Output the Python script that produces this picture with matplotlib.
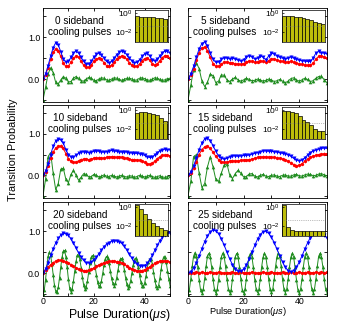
import numpy as np
import matplotlib
matplotlib.use("Agg")
import matplotlib.pyplot as plt

plt.rcParams["font.family"] = ["Liberation Sans", "DejaVu Sans"]
plt.rcParams["mathtext.fontset"] = "custom"
plt.rcParams["mathtext.rm"] = "Liberation Sans"
plt.rcParams["mathtext.it"] = "Liberation Sans:italic"

# pulse durations (us)
t = np.arange(0, 51, 1.0)
t_fine = np.arange(0, 50.5, 0.5)

pulses = [0, 5, 10, 15, 20, 25]

blue_0 = [0.0, 0.12, 0.32, 0.55, 0.75, 0.87, 0.82, 0.65, 0.48, 0.40, 0.42, 0.52, 0.62, 0.67, 0.62, 0.52, 0.42,
          0.36, 0.36, 0.42, 0.52, 0.59, 0.62, 0.58, 0.50, 0.42, 0.39, 0.42, 0.50, 0.58, 0.64, 0.67, 0.65, 0.58,
          0.50, 0.43, 0.39, 0.40, 0.46, 0.54, 0.60, 0.62, 0.55, 0.46, 0.43, 0.47, 0.55, 0.63, 0.67, 0.66, 0.62]
red_0 = [0.0, 0.10, 0.27, 0.47, 0.64, 0.72, 0.68, 0.54, 0.38, 0.30, 0.31, 0.40, 0.50, 0.55, 0.52, 0.43, 0.33,
         0.28, 0.28, 0.33, 0.42, 0.48, 0.50, 0.47, 0.39, 0.32, 0.30, 0.33, 0.40, 0.48, 0.53, 0.55, 0.53, 0.47,
         0.39, 0.33, 0.30, 0.31, 0.36, 0.44, 0.49, 0.50, 0.45, 0.37, 0.33, 0.36, 0.44, 0.51, 0.56, 0.54, 0.50]
green_0 = [-0.5, -0.2, 0.12, 0.27, 0.15, -0.08, -0.12, -0.02, 0.06, 0.02, -0.07, -0.06, 0.02, 0.06, 0.02, -0.04,
           -0.05, 0.0, 0.04, 0.02, -0.03, -0.04, 0.0, 0.03, 0.02, -0.02, -0.03, 0.0, 0.03, 0.02, -0.01, -0.03,
           -0.01, 0.02, 0.02, 0.0, -0.03, -0.02, 0.02, 0.03, 0.01, -0.02, -0.03, 0.0, 0.03, 0.02, -0.01, -0.03,
           -0.02, 0.01, 0.02]

blue_5 = [0.0, 0.12, 0.30, 0.52, 0.72, 0.85, 0.89, 0.80, 0.62, 0.47, 0.40, 0.41, 0.47, 0.51, 0.50, 0.48, 0.50,
          0.48, 0.45, 0.43, 0.46, 0.53, 0.56, 0.53, 0.48, 0.50, 0.56, 0.52, 0.46, 0.55, 0.62, 0.60, 0.55, 0.52,
          0.50, 0.48, 0.50, 0.53, 0.50, 0.47, 0.45, 0.44, 0.43, 0.42, 0.42, 0.50, 0.62, 0.66, 0.63, 0.62, 0.60]
red_5 = [0.0, 0.10, 0.25, 0.45, 0.63, 0.74, 0.77, 0.68, 0.52, 0.37, 0.30, 0.31, 0.36, 0.40, 0.41, 0.39, 0.38,
         0.37, 0.36, 0.35, 0.37, 0.41, 0.43, 0.42, 0.40, 0.41, 0.44, 0.42, 0.40, 0.44, 0.48, 0.48, 0.45, 0.43,
         0.42, 0.40, 0.41, 0.42, 0.40, 0.38, 0.36, 0.35, 0.34, 0.33, 0.33, 0.38, 0.48, 0.54, 0.55, 0.53, 0.50]
green_5 = [-0.5, -0.15, 0.22, 0.39, 0.25, -0.05, -0.18, -0.08, 0.12, 0.08, -0.09, -0.05, 0.10, 0.09, -0.02,
           -0.06, 0.0, 0.04, -0.02, -0.05, -0.02, 0.02, -0.01, -0.04, -0.03, 0.0, -0.02, -0.05, -0.03, 0.0,
           -0.02, -0.06, -0.04, -0.01, -0.05, -0.09, -0.05, 0.01, 0.03, -0.02, -0.05, -0.02, 0.02, -0.01, -0.06,
           -0.04, 0.02, 0.06, 0.07, -0.02, -0.09]

blue_10 = [0.0, 0.10, 0.28, 0.50, 0.70, 0.83, 0.87, 0.86, 0.78, 0.62, 0.50, 0.44, 0.44, 0.48, 0.53, 0.56, 0.57,
           0.56, 0.55, 0.56, 0.58, 0.59, 0.58, 0.56, 0.56, 0.57, 0.59, 0.60, 0.59, 0.58, 0.57, 0.56, 0.57, 0.56,
           0.55, 0.54, 0.53, 0.53, 0.52, 0.51, 0.48, 0.45, 0.43, 0.44, 0.49, 0.55, 0.59, 0.62, 0.63, 0.62, 0.62]
red_10 = [0.0, 0.08, 0.23, 0.41, 0.56, 0.66, 0.70, 0.71, 0.65, 0.52, 0.40, 0.34, 0.31, 0.32, 0.35, 0.38, 0.39,
          0.39, 0.38, 0.39, 0.41, 0.42, 0.42, 0.41, 0.42, 0.43, 0.44, 0.45, 0.44, 0.43, 0.44, 0.43, 0.42, 0.41,
          0.39, 0.38, 0.38, 0.37, 0.36, 0.34, 0.31, 0.28, 0.27, 0.29, 0.34, 0.40, 0.45, 0.48, 0.49, 0.48, 0.47]
green_10 = [-0.5, -0.1, 0.45, 0.55, 0.05, -0.35, -0.2, 0.15, 0.17, -0.1, -0.18, 0.02, 0.12, 0.0, -0.12, -0.05,
            0.04, 0.02, -0.04, -0.03, 0.02, 0.0, -0.04, -0.02, 0.01, -0.02, -0.03, 0.0, -0.02, -0.04, -0.02, 0.0,
            -0.03, -0.04, -0.01, -0.02, -0.05, -0.03, 0.0, -0.02, -0.04, -0.02, 0.0, -0.03, -0.05, -0.03, -0.01,
            -0.04, -0.05, -0.03, -0.02]

blue_15 = [0.0, 0.08, 0.22, 0.42, 0.62, 0.78, 0.88, 0.90, 0.84, 0.72, 0.58, 0.47, 0.41, 0.39, 0.41, 0.45, 0.47,
           0.47, 0.46, 0.47, 0.48, 0.48, 0.49, 0.51, 0.53, 0.55, 0.57, 0.59, 0.59, 0.58, 0.58, 0.57, 0.56, 0.55,
           0.53, 0.52, 0.50, 0.46, 0.41, 0.37, 0.35, 0.37, 0.42, 0.49, 0.55, 0.59, 0.61, 0.63, 0.65, 0.66, 0.65]
red_15 = [0.0, 0.06, 0.17, 0.33, 0.50, 0.62, 0.69, 0.70, 0.65, 0.56, 0.46, 0.38, 0.33, 0.31, 0.32, 0.34, 0.35,
          0.35, 0.35, 0.36, 0.37, 0.37, 0.38, 0.39, 0.41, 0.43, 0.44, 0.45, 0.45, 0.44, 0.44, 0.43, 0.42, 0.41,
          0.39, 0.37, 0.34, 0.30, 0.26, 0.23, 0.24, 0.28, 0.34, 0.39, 0.43, 0.46, 0.48, 0.50, 0.51, 0.52, 0.52]
green_15 = [-0.5, -0.15, 0.45, 0.5, 0.05, -0.3, -0.2, 0.2, 0.45, 0.2, -0.1, -0.15, 0.05, 0.25, 0.28, 0.0, -0.08,
            0.04, 0.12, 0.05, -0.04, -0.03, 0.03, 0.04, -0.02, -0.04, 0.0, 0.02, -0.02, -0.03, 0.0, 0.01, -0.02,
            -0.03, 0.0, 0.01, -0.02, -0.02, 0.01, 0.02, -0.01, -0.02, 0.01, 0.03, 0.02, -0.01, 0.0, 0.03, 0.04,
            0.01, -0.01]

blue_20 = [0.0, 0.10, 0.25, 0.42, 0.58, 0.72, 0.83, 0.91, 0.95, 0.94, 0.90, 0.82, 0.72, 0.60, 0.48, 0.38, 0.30,
           0.25, 0.24, 0.26, 0.31, 0.38, 0.46, 0.55, 0.63, 0.69, 0.73, 0.76, 0.77, 0.77, 0.75, 0.71, 0.64, 0.55,
           0.45, 0.35, 0.27, 0.21, 0.18, 0.17, 0.18, 0.23, 0.31, 0.42, 0.54, 0.66, 0.77, 0.86, 0.92, 0.95, 0.96]
red_20 = [0.0, 0.07, 0.14, 0.20, 0.25, 0.28, 0.30, 0.30, 0.29, 0.27, 0.24, 0.20, 0.16, 0.12, 0.09, 0.07, 0.06,
          0.06, 0.07, 0.09, 0.12, 0.16, 0.19, 0.22, 0.25, 0.27, 0.28, 0.28, 0.28, 0.27, 0.26, 0.24, 0.21, 0.17,
          0.13, 0.10, 0.07, 0.06, 0.05, 0.06, 0.08, 0.11, 0.15, 0.19, 0.23, 0.26, 0.28, 0.29, 0.29, 0.28, 0.27]
green_20 = [-0.5, -0.41, -0.16, 0.15, 0.40, 0.50, 0.42, 0.22, -0.04, -0.29, -0.44, -0.46, -0.34, -0.12, 0.15,
            0.38, 0.52, 0.54, 0.39, 0.14, -0.15, -0.37, -0.45, -0.38, -0.19, 0.05, 0.28, 0.42, 0.44, 0.33, 0.13,
            -0.10, -0.29, -0.38, -0.34, -0.19, 0.02, 0.23, 0.38, 0.42, 0.34, 0.17, -0.04, -0.22, -0.32, -0.31,
            -0.19, -0.01, 0.19, 0.34, 0.40, 0.35, 0.23, 0.05, -0.13, -0.25, -0.30, -0.25, -0.11, 0.07, 0.23,
            0.34, 0.35, 0.26, 0.08, -0.11, -0.27, -0.35, -0.31, -0.18, 0.0, 0.19, 0.32, 0.36, 0.29, 0.14, -0.04,
            -0.21, -0.31, -0.32, -0.24, -0.08, 0.10, 0.26, 0.34, 0.33, 0.22, 0.03, -0.16, -0.31, -0.36, -0.30,
            -0.13, 0.09, 0.28, 0.39, 0.38, 0.26, 0.06, -0.14, -0.30]

blue_25 = [0.0, 0.03, 0.115, 0.25, 0.41, 0.585, 0.75, 0.89, 0.985, 1.03, 1.01, 0.94, 0.82, 0.67, 0.50, 0.34,
           0.20, 0.09, 0.04, 0.04, 0.09, 0.20, 0.34, 0.50, 0.66, 0.81, 0.92, 0.99, 1.0, 0.95, 0.86, 0.73, 0.57,
           0.41, 0.26, 0.14, 0.06, 0.03, 0.06, 0.14, 0.26, 0.41, 0.57, 0.72, 0.85, 0.94, 0.98, 0.97, 0.94, 0.90,
           0.84]
red_25 = [0.0, 0.01, 0.01, 0.02, 0.01, 0.02, 0.01, 0.01, 0.02, 0.01, 0.01, 0.02, 0.01, 0.0, 0.01, 0.01, 0.02,
          0.01, 0.01, 0.02, 0.01, 0.01, 0.01, 0.02, 0.01, 0.0, 0.01, 0.02, 0.01, 0.01, 0.02, 0.01, 0.01, 0.01,
          0.02, 0.01, 0.01, 0.02, 0.01, 0.01, 0.02, 0.01, 0.01, 0.02, 0.01, 0.01, 0.02, 0.01, 0.02, 0.01, 0.02]
green_25 = [-0.5, -0.4, -0.14, 0.16, 0.4, 0.49, 0.4, 0.15, -0.16, -0.4,
            -0.47, -0.38, -0.13, 0.17, 0.4, 0.47, 0.38, 0.14, -0.15, -0.39,
            -0.48, -0.39, -0.16, 0.14, 0.38, 0.48, 0.4, 0.16, -0.14, -0.38,
            -0.47, -0.4, -0.15, 0.15, 0.39, 0.47, 0.38, 0.15, -0.15, -0.4,
            -0.48, -0.38, -0.14, 0.16, 0.4, 0.48, 0.39, 0.14, -0.16, -0.39,
            -0.47, -0.39, -0.15, 0.15, 0.38, 0.47, 0.39, 0.15, -0.14, -0.38,
            -0.46, -0.38, -0.14, 0.16, 0.39, 0.48, 0.4, 0.16, -0.15, -0.39,
            -0.47, -0.39, -0.15, 0.14, 0.38, 0.47, 0.38, 0.14, -0.16, -0.4,
            -0.48, -0.38, -0.15, 0.15, 0.39, 0.48, 0.39, 0.15, -0.15, -0.38,
            -0.47, -0.39, -0.14, 0.16, 0.4, 0.47, 0.38, 0.15, -0.15, -0.39,
            -0.47]

# phonon number populations shown in the insets
pop_0 = [0.45, 0.42, 0.40, 0.37, 0.34, 0.30, 0.27, 0.24, 0.22, 0.20, 0.18]
pop_5 = [0.52, 0.50, 0.45, 0.41, 0.35, 0.30, 0.23, 0.18, 0.13, 0.10, 0.07]
pop_10 = [0.50, 0.66, 0.66, 0.51, 0.37, 0.29, 0.16, 0.08, 0.054, 0.035, 0.02]
pop_15 = [0.85, 0.79, 0.66, 0.44, 0.25, 0.10, 0.056, 0.025, 0.011, 0.007, 0.006]
pop_20 = [1.5, 0.67, 0.20, 0.06, 0.022, 0.010, 0.006, 0.0045, 0.0028, 0.002, 0.0016]
pop_25 = [1.5, 0.008, 0.004, 0.0035, 0.0035, 0.003, 0.003, 0.003, 0.003, 0.003, 0.003]

blues = [blue_0, blue_5, blue_10, blue_15, blue_20, blue_25]
reds = [red_0, red_5, red_10, red_15, red_20, red_25]
greens = [green_0, green_5, green_10, green_15, green_20, green_25]
pops = [pop_0, pop_5, pop_10, pop_15, pop_20, pop_25]

W, H = 337, 323
fig = plt.figure(figsize=(W / 100, H / 100), dpi=100)


def px_axes(x0, y0, x1, y1):
    return fig.add_axes([x0 / W, 1 - y1 / H, (x1 - x0) / W, (y1 - y0) / H])


rows = [(8, 102), (105, 198), (202, 296)]
cols = [(43, 170, 48), (188, 327, 50)]

for i, n in enumerate(pulses):
    r, c = divmod(i, 2)
    top, bot = rows[r]
    x0, x1, xmax = cols[c]
    ax = px_axes(x0, top, x1, bot)

    g = greens[i]
    tg = t_fine if len(g) == len(t_fine) else t
    ax.errorbar(tg, g, yerr=0.045, fmt="none", ecolor="#86c886", elinewidth=0.7)
    ax.errorbar(t, reds[i], yerr=0.035, fmt="none", ecolor="#ff9090", elinewidth=0.7)
    ax.errorbar(t, blues[i], yerr=0.035, fmt="none", ecolor="#9090ff", elinewidth=0.7)
    ax.plot(tg, g, color="#1f8c1f", lw=0.7, marker="^", ms=2.6, mew=0)
    ax.plot(t, reds[i], color="#ff0000", lw=0.7, marker="o", ms=2.4, mew=0)
    ax.plot(t, blues[i], color="#0000ff", lw=0.7, marker="v", ms=2.9, mew=0)

    ax.set_xlim(0, xmax)
    ax.set_ylim(-0.55, 1.7)
    ax.set_xticks([0, 10, 20, 30, 40, 50])
    ax.set_xticklabels(["0", "", "20", "", "40", ""] if r == 2 else [])
    ax.set_yticks([-0.5, 0, 0.5, 1.0, 1.5])
    ax.set_yticklabels(["", "0.0", "", "1.0", ""] if c == 0 else [])
    ax.tick_params(direction="in", length=2.5, width=0.6, top=True, right=True,
                   labelsize=6.3, pad=2)
    ax.tick_params(axis="x", pad=1)
    for s in ax.spines.values():
        s.set_linewidth(0.6)

    tx = 0.29 if c == 0 else 0.266
    ax.text(tx, 0.80, f"{n} sideband\ncooling pulses", transform=ax.transAxes,
            ha="center", va="center", fontsize=7.2, linespacing=1.15)

    # inset with populations
    if c == 1:
        ins = px_axes(282, top + 2, 325, top + 34)
        ins.set_xlim(-0.5, 10.5)
    else:
        ins = px_axes(135, top + 2, 168, top + 34)
        ins.set_xlim(-0.5, 7.75)
    p = pops[i]
    ins.bar(range(len(p)), p, width=1.0, color="#bdbd0a", edgecolor="black", linewidth=0.5)
    ins.axhline(0.05, color="gray", lw=0.5, ls=":")
    ins.set_yscale("log")
    ins.set_ylim(1e-3, 2)
    ins.set_xticks([])
    ins.set_yticks([1, 1e-2])
    ins.set_yticklabels(["$10^0$", "$10^{-2}$"])
    ins.minorticks_off()
    ins.tick_params(direction="in", length=1.5, width=0.5, labelsize=6, pad=1.5)
    for s in ins.spines.values():
        s.set_linewidth(0.5)

fig.text(13 / W, 1 - 150 / H, "Transition Probability", rotation=90,
         ha="center", va="center", fontsize=7.8)
fig.text(119 / W, 1 - 315 / H, r"Pulse Duration($\mu s$)", ha="center", va="center", fontsize=8.8)
fig.text(248 / W, 1 - 312 / H, r"Pulse Duration($\mu s$)", ha="center", va="center", fontsize=6.7)

fig.savefig("out.png", dpi=100)
